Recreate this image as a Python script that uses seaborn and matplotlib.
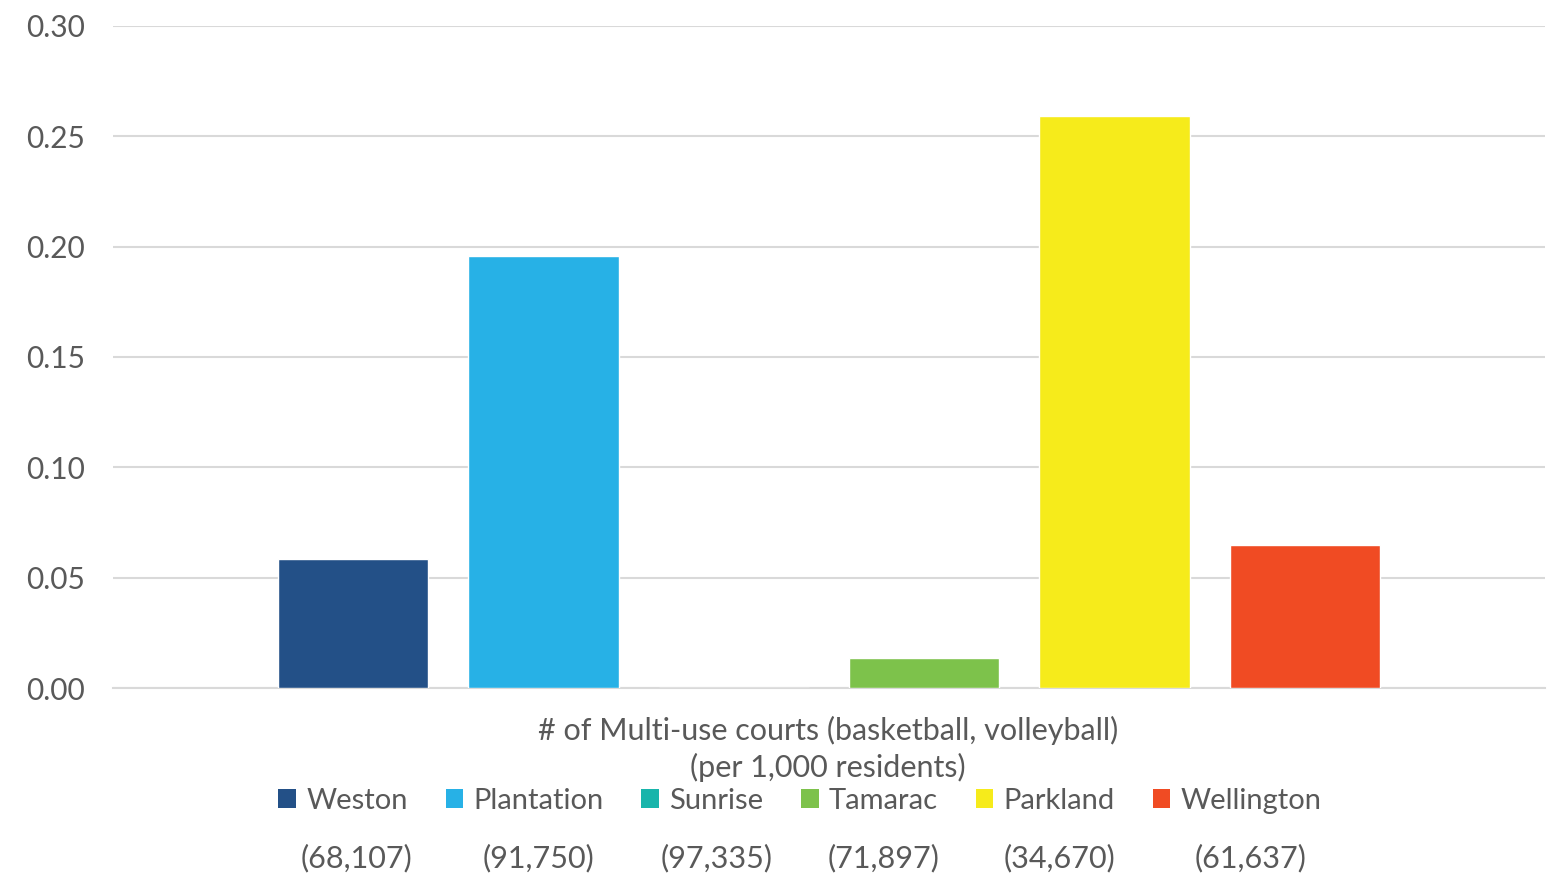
import matplotlib
matplotlib.use("Agg")
import matplotlib.pyplot as plt
from matplotlib.patches import Patch
import pandas as pd
import seaborn as sns

cities = ["Weston", "Plantation", "Sunrise", "Tamarac", "Parkland", "Wellington"]
courts_per_1000 = [0.0585, 0.1958, 0.0, 0.0136, 0.2592, 0.0648]
population = ["(68,107)", "(91,750)", "(97,335)", "(71,897)", "(34,670)", "(61,637)"]
colors = ["#235087", "#27B1E6", "#18B5AB", "#7DC24B", "#F6EB1B", "#F04B23"]

df = pd.DataFrame({"city": cities, "value": courts_per_1000})

sns.set_style("white")
plt.rcParams["font.family"] = ["Lato", "DejaVu Sans"]
text_grey = "#595959"
grid_grey = "#D9D9D9"

fig = plt.figure(figsize=(15.61, 8.82), dpi=100)
ax = fig.add_axes([113 / 1561, 194 / 882, 1432 / 1561, 662 / 882])

sns.barplot(data=df, x="city", y="value", hue="city", palette=colors,
            width=0.79, legend=False, ax=ax, saturation=1, zorder=3)

ax.set_ylim(0, 0.30)
ax.set_xlim(-1.263, 6.263)
ax.set_yticks([0, 0.05, 0.10, 0.15, 0.20, 0.25, 0.30])
ax.set_yticklabels([f"{v:.2f}" for v in ax.get_yticks()])
ax.set_xticks([])
ax.set_xlabel("")
ax.set_ylabel("")
ax.yaxis.grid(True, color=grid_grey, linewidth=1.5, zorder=0)
ax.set_axisbelow(True)
for side in ["top", "right", "left"]:
    ax.spines[side].set_visible(False)
ax.spines["bottom"].set_color(grid_grey)
ax.spines["bottom"].set_linewidth(1.5)
ax.tick_params(axis="y", length=0, pad=20, labelsize=21.5, labelcolor=text_grey)

fig.text(828 / 1561, 1 - 749 / 882,
         "# of Multi-use courts (basketball, volleyball)\n(per 1,000 residents)",
         ha="center", va="center", fontsize=22, color=text_grey, linespacing=1.3)

handles = [Patch(facecolor=c, edgecolor="none") for c in colors]
leg = fig.legend(handles, cities, loc="center", bbox_to_anchor=(800 / 1561, 1 - 801 / 882),
                 ncol=6, frameon=False, fontsize=21, handlelength=0.6, handleheight=0.6,
                 handletextpad=0.35, columnspacing=1.3, labelcolor=text_grey)

# population under each legend entry
fig.canvas.draw()
renderer = fig.canvas.get_renderer()
for txt, pop in zip(leg.get_texts(), population):
    bb = txt.get_window_extent(renderer)
    xc = (bb.x0 + bb.x1) / 2 / fig.bbox.width
    fig.text(xc, 1 - 858 / 882, pop, ha="center", va="center",
             fontsize=22, color=text_grey)

fig.savefig("out.png", dpi=100)
